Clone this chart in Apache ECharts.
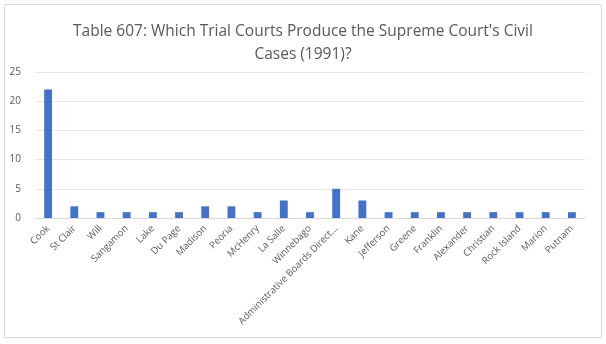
<!DOCTYPE html>
<html><head><meta charset="utf-8">
<script src="https://cdn.jsdelivr.net/npm/echarts@6/dist/echarts.min.js"></script>
<style>html,body{margin:0;padding:0;background:#fff}#c{width:606px;height:344px}</style>
</head><body><div id="c"></div>
<script>
const titleText = "Table 607: Which Trial Courts Produce the Supreme Court's Civil\nCases (1991)?";
const categories = ["Cook","St Clair","Will","Sangamon","Lake","Du Page","Madison","Peoria","McHenry","La Salle","Winnebago","Administrative Boards Direct...","Kane","Jefferson","Greene","Franklin","Alexander","Christian","Rock Island","Marion","Putnam"];
const values = [22,2,1,1,1,1,2,2,1,3,1,5,3,1,1,1,1,1,1,1,1];
const yTicks = [0,5,10,15,20,25];

const chart = echarts.init(document.getElementById('c'));
chart.setOption({
  animation:false,
  backgroundColor:'#fff',
  graphic:[{type:'rect',shape:{x:4.5,y:4.5,width:597,height:333},style:{fill:'none',stroke:'#d9d9d9',lineWidth:1},silent:true}],
  title:{text:titleText,left:'center',top:15,textStyle:{fontFamily:'Open Sans',fontSize:15.5,fontWeight:'normal',color:'#595959',lineHeight:23}},
  grid:{left:35,right:21,top:72,bottom:126,containLabel:false},
  xAxis:{type:'category',data:categories,
    axisLine:{lineStyle:{color:'#d9d9d9'}},axisTick:{show:false},
    axisLabel:{rotate:45,interval:0,fontFamily:'Open Sans',fontSize:9.6,color:'#595959',margin:9,padding:[0,0,0,0]}},
  yAxis:{type:'value',min:yTicks[0],max:yTicks[yTicks.length-1],interval:5,
    axisLine:{show:false},axisTick:{show:false},
    splitLine:{lineStyle:{color:'#e6e6e6'}},
    axisLabel:{fontFamily:'Open Sans',fontSize:10,color:'#595959',margin:14}},
  series:[{type:'bar',data:values,barWidth:'30%',itemStyle:{color:'#4472C4'}}]
});
</script></body></html>
